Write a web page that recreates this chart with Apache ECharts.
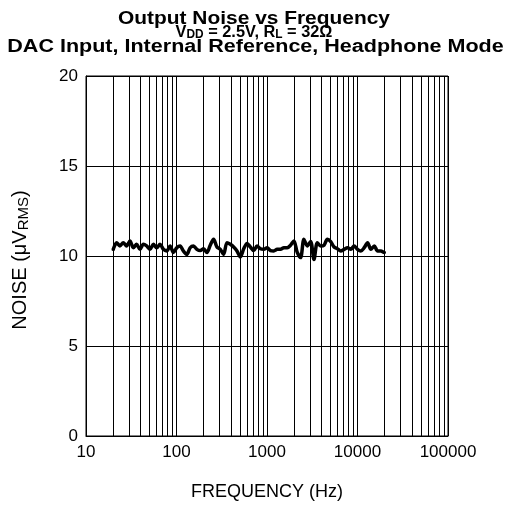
<!DOCTYPE html>
<html>
<head>
<meta charset="utf-8">
<script src="https://cdn.jsdelivr.net/npm/echarts@6/dist/echarts.min.js"></script>
<style>
  html, body { margin: 0; padding: 0; background: #fff; }
  #chart { width: 508px; height: 508px; }
</style>
</head>
<body>
<div id="chart"></div>
<script>
// Measured output noise (µV RMS) against frequency (Hz)
const frequencyHz = [
  20, 21.8, 23.7, 25.8, 28.1, 30.6, 33.3, 36.3, 39.5, 43,
  46.8, 51, 55.5, 60.4, 65.8, 71.6, 78, 85, 92.5, 100.7,
  109.6, 119, 130, 141.5, 154, 168, 183, 199, 217, 236,
  257, 280, 305, 332, 361, 393, 428, 466, 508, 553,
  602, 655, 714, 777, 846, 921, 1003, 1092, 1189, 1295,
  1410, 1535, 1672, 1820, 1982, 2158, 2350, 2559, 2787, 3034,
  3304, 3598, 3918, 4266, 4645, 5058, 5508, 5998, 6531, 7112,
  7744, 8433, 9183, 10000, 10889, 11857, 12912, 14060, 15310, 16672,
  18154, 19769, 20000
];
const noiseUvRms = [
  10.37, 10.74, 10.56, 10.74, 10.56, 10.83, 10.46, 10.65, 10.37, 10.65,
  10.56, 10.37, 10.65, 10.46, 10.65, 10.37, 10.28, 10.56, 10.19, 10.46,
  10.56, 10.28, 10.09, 10.46, 10.56, 10.37, 10.30, 10.40, 10.19, 10.60,
  10.93, 10.50, 10.37, 10.09, 10.74, 10.65, 10.50, 10.28, 9.95, 10.40,
  10.70, 10.50, 10.30, 10.56, 10.40, 10.37, 10.46, 10.30, 10.28, 10.37,
  10.37, 10.46, 10.46, 10.60, 10.83, 10.20, 9.91, 10.93, 10.56, 10.80,
  9.81, 10.74, 10.56, 10.60, 10.93, 10.80, 10.50, 10.40, 10.28, 10.37,
  10.46, 10.37, 10.56, 10.37, 10.28, 10.46, 10.74, 10.37, 10.56, 10.28,
  10.28, 10.20, 10.20
];

// Title lines
const titleLines = [
  'Output Noise vs Frequency',
  'V{sub|DD} = 2.5V, R{sub|L} = 32Ω',
  'DAC Input, Internal Reference, Headphone Mode'
];

// Axis ranges and grid positions
const xMin = 10, xMax = 100000;
const yMin = 0, yMax = 20, yStep = 5;
const minorGridFreqs = [
  20, 30, 40, 50, 60, 70, 80, 90,
  200, 300, 400, 500, 600, 700, 800, 900,
  2000, 3000, 4000, 5000, 6000, 7000, 8000, 9000,
  20000, 30000, 40000, 50000, 60000, 70000, 80000, 90000
];

const FONT = '"Liberation Sans", Arial, Helvetica, sans-serif';
const points = frequencyHz.map((f, i) => [f, noiseUvRms[i]]);

function titleText(text, x, y, size, sx) {
  return {
    type: 'text',
    x: x, y: y,
    scaleX: sx,
    silent: true,
    style: {
      text: text,
      fontFamily: FONT,
      fontWeight: 'bold',
      fontSize: size,
      lineHeight: 17,
      fill: '#000',
      align: 'center',
      verticalAlign: 'middle',
      rich: {
        sub: {
          fontFamily: FONT,
          fontWeight: 'bold',
          fontSize: 12,
          lineHeight: 11,
          padding: [6, 0, 0, 0],
          fill: '#000'
        }
      }
    }
  };
}

const chart = echarts.init(document.getElementById('chart'), null, { renderer: 'canvas' });
chart.setOption({
  animation: false,
  backgroundColor: '#fff',
  graphic: [
    titleText(titleLines[0], 254, 19, 18, 1.162),
    titleText(titleLines[1], 254, 32, 16.5, 0.99),
    titleText(titleLines[2], 255.5, 47.5, 18, 1.196)
  ],
  grid: {
    left: 86, right: 60, top: 76, bottom: 72,
    show: true,
    borderColor: '#000',
    borderWidth: 1,
    containLabel: false
  },
  xAxis: {
    type: 'log',
    logBase: 10,
    min: xMin,
    max: xMax,
    name: 'FREQUENCY (Hz)',
    nameLocation: 'middle',
    nameGap: 47,
    nameTextStyle: { fontFamily: FONT, fontSize: 18, color: '#000' },
    axisLine: { show: true, lineStyle: { color: '#000', width: 1 } },
    axisTick: { show: false },
    axisLabel: {
      fontFamily: FONT, fontSize: 17, color: '#000', margin: 8,
      formatter: v => String(Math.round(v))
    },
    splitLine: { show: true, lineStyle: { color: '#000', width: 1 } }
  },
  yAxis: {
    type: 'value',
    min: yMin,
    max: yMax,
    interval: yStep,
    name: 'NOISE (μV{sub|RMS})',
    nameLocation: 'middle',
    nameRotate: 90,
    nameGap: 56,
    nameTextStyle: {
      fontFamily: FONT, fontSize: 20, color: '#000',
      padding: [0, 8, 0, 0],
      rich: {
        sub: { fontFamily: FONT, fontSize: 15, lineHeight: 12, padding: [8, 0, 0, 0], color: '#000' }
      }
    },
    axisLine: { show: true, lineStyle: { color: '#000', width: 1 } },
    axisTick: { show: false },
    axisLabel: { fontFamily: FONT, fontSize: 17, color: '#000', margin: 8 },
    splitLine: { show: true, lineStyle: { color: '#000', width: 1 } }
  },
  series: [{
    type: 'line',
    data: points,
    showSymbol: false,
    symbol: 'none',
    smooth: 0.3,
    lineStyle: { color: '#000', width: 3.5, join: 'round', cap: 'round' },
    z: 5,
    markLine: {
      silent: true,
      symbol: ['none', 'none'],
      label: { show: false },
      lineStyle: { color: '#000', width: 1, type: 'solid' },
      emphasis: { disabled: true },
      data: minorGridFreqs.map(f => ({ xAxis: f }))
    }
  }]
});
</script>
</body>
</html>
